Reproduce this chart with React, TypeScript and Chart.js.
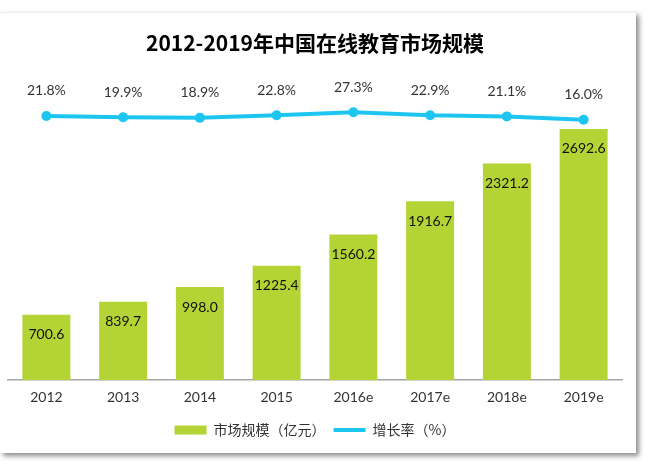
import React, { useEffect, useRef } from "react";
import { Chart, registerables } from "chart.js";

Chart.register(...registerables);

const categories = ["2012", "2013", "2014", "2015", "2016e", "2017e", "2018e", "2019e"];
const marketSize = [700.6, 839.7, 998.0, 1225.4, 1560.2, 1916.7, 2321.2, 2692.6];
const growthRate = [21.8, 19.9, 18.9, 22.8, 27.3, 22.9, 21.1, 16.0];
const seriesNames = ["市场规模（亿元）", "增长率（%）"];
const titleText = "2012-2019年中国在线教育市场规模";

const GREEN = "#B4D334";
const CYAN = "#1DC6F0";

const labelPlugin = {
  id: "valueLabels",
  afterDatasetsDraw(chart: any) {
    const ctx = chart.ctx;
    ctx.save();
    ctx.textAlign = "center";
    ctx.textBaseline = "middle";
    const barMeta = chart.getDatasetMeta(0);
    ctx.font = "14px Lato, 'Noto Sans', sans-serif";
    ctx.fillStyle = "#111";
    barMeta.data.forEach((el: any, i: number) => {
      ctx.fillText(marketSize[i].toFixed(1), el.x, el.y + 20);
    });
    const lineMeta = chart.getDatasetMeta(1);
    ctx.fillStyle = "#333";
    lineMeta.data.forEach((el: any, i: number) => {
      ctx.fillText(growthRate[i].toFixed(1) + "%", el.x, el.y - 25);
    });
    ctx.restore();
  },
};

export default function App() {
  const ref = useRef<HTMLCanvasElement>(null);
  useEffect(() => {
    if (!ref.current) return;
    const chart = new Chart(ref.current, {
      type: "bar",
      data: {
        labels: categories,
        datasets: [
          {
            type: "bar",
            label: seriesNames[0],
            data: marketSize,
            backgroundColor: GREEN,
            borderWidth: 0,
            barPercentage: 0.625,
            categoryPercentage: 1,
            yAxisID: "y",
            order: 2,
          },
          {
            type: "line",
            label: seriesNames[1],
            data: growthRate,
            borderColor: CYAN,
            backgroundColor: CYAN,
            borderWidth: 4,
            pointRadius: 5,
            pointBackgroundColor: CYAN,
            pointBorderWidth: 0,
            yAxisID: "y1",
            order: 1,
          },
        ],
      },
      options: {
        animation: false,
        responsive: false,
        layout: { padding: { left: 8, right: 25, top: 0, bottom: 18 } },
        scales: {
          x: {
            grid: { display: false, drawTicks: false },
            border: { display: true, color: "#A6A6A6", width: 1.5 },
            ticks: {
              color: "#333",
              padding: 9,
              font: { family: "Lato, 'Noto Sans', sans-serif", size: 14 },
            },
          },
          y: { display: false, min: 0, max: 3000 },
          y1: { display: false, min: -375, max: 45.4 },
        },
        plugins: {
          tooltip: { enabled: false },
          title: {
            display: true,
            text: titleText,
            color: "#000",
            font: { family: "'Noto Sans CJK SC', sans-serif", size: 21, weight: "bold" },
            padding: { top: 30, bottom: 45 },
          },
          legend: {
            position: "bottom",
            labels: {
              color: "#333",
              font: { family: "'Noto Sans CJK SC', sans-serif", size: 14 },
              usePointStyle: true,
              pointStyleWidth: 32,
              boxHeight: 9,
              padding: 8,
              generateLabels: () => [
                {
                  text: seriesNames[0],
                  fillStyle: GREEN,
                  strokeStyle: GREEN,
                  lineWidth: 0,
                  pointStyle: "rect",
                  datasetIndex: 0,
                  hidden: false,
                  fontColor: "#333",
                },
                {
                  text: seriesNames[1],
                  fillStyle: CYAN,
                  strokeStyle: CYAN,
                  lineWidth: 4,
                  pointStyle: "line",
                  datasetIndex: 1,
                  hidden: false,
                  fontColor: "#333",
                },
              ],
            },
          },
        },
      },
      plugins: [labelPlugin],
    });
    return () => chart.destroy();
  }, []);

  return (
    <div style={{ position: "absolute", left: 0, top: 0, width: 647, height: 465, background: "#fff", overflow: "hidden" }}>
      <div
        style={{
          position: "absolute",
          left: 0,
          top: 12,
          width: 636,
          height: 440,
          background: "#fff",
          borderTop: "1px solid #eee",
          boxShadow: "3px 3px 5px rgba(0,0,0,0.45)",
        }}
      />
      <canvas ref={ref} width={647} height={465} style={{ position: "absolute", left: 0, top: 0 }} />
    </div>
  );
}
